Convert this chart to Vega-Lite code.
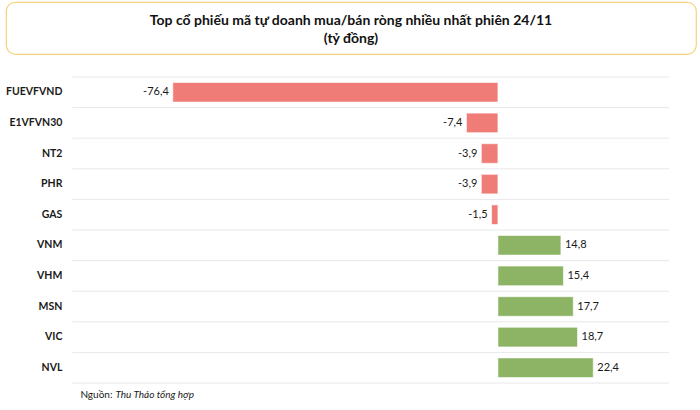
{
  "$schema": "https://vega.github.io/schema/vega-lite/v6.json",
  "padding": {"left": 5, "top": 1, "right": 5, "bottom": 0},
  "background": "white",
  "config": {
    "font": "Lato",
    "locale": {"number": {"decimal": ",", "thousands": ".", "grouping": [3], "currency": ["", ""], "minus": "-"}},
    "concat": {"spacing": 21}
  },
  "columns": 1,
  "concat": [
    {
      "width": 690,
      "height": 52,
      "view": {"stroke": "#F6D47E", "strokeWidth": 1.2, "cornerRadius": 9, "fill": "white"},
      "data": {"values": [{"t": "Top cổ phiếu mã tự doanh mua/bán ròng nhiều nhất phiên 24/11\n(tỷ đồng)"}]},
      "mark": {"type": "text", "font": "Lato", "fontWeight": "bold", "fontSize": 14, "color": "#111", "lineBreak": "\n", "lineHeight": 18, "baseline": "middle", "align": "center", "dy": -7},
      "encoding": {"text": {"field": "t"}}
    },
    {
      "width": 663,
      "height": 306,
      "view": {"stroke": null},
      "data": {"values": [
        {"ma": "FUEVFVND", "gt": -76.4},
        {"ma": "E1VFVN30", "gt": -7.4},
        {"ma": "NT2", "gt": -3.9},
        {"ma": "PHR", "gt": -3.9},
        {"ma": "GAS", "gt": -1.5},
        {"ma": "VNM", "gt": 14.8},
        {"ma": "VHM", "gt": 15.4},
        {"ma": "MSN", "gt": 17.7},
        {"ma": "VIC", "gt": 18.7},
        {"ma": "NVL", "gt": 22.4}
      ]},
      "encoding": {
        "y": {"field": "ma", "type": "nominal", "sort": null,
          "scale": {"paddingInner": 0, "paddingOuter": 0}, "axis": null}
      },
      "layer": [
        {
          "mark": {"type": "rule", "color": "#e8e8e8", "strokeWidth": 1},
          "encoding": {
            "y": {"field": "ma", "type": "nominal", "sort": null, "bandPosition": 0},
            "x": {"datum": -100, "type": "quantitative", "scale": {"domain": [-115.6, 40.2], "nice": false, "zero": false}, "axis": null},
            "x2": {"datum": 40.2}
          }
        },
        {
          "transform": [{"filter": "datum.ma == 'NVL'"}],
          "mark": {"type": "rule", "color": "#e8e8e8", "strokeWidth": 1},
          "encoding": {
            "y": {"field": "ma", "type": "nominal", "sort": null, "bandPosition": 1},
            "x": {"datum": -100, "type": "quantitative"},
            "x2": {"datum": 40.2}
          }
        },
        {
          "mark": {"type": "bar", "height": {"band": 0.64}, "stroke": "white", "strokeWidth": 0.6},
          "encoding": {
            "x": {"field": "gt", "type": "quantitative"},
            "color": {"condition": {"test": "datum.gt < 0", "value": "#F07C78"}, "value": "#8CB464"}
          }
        },
        {
          "mark": {"type": "text", "align": "right", "baseline": "middle", "dx": -10, "fontSize": 10.5, "font": "Lato", "fontWeight": "bold", "color": "#1a1a1a"},
          "encoding": {
            "x": {"datum": -100, "type": "quantitative"},
            "text": {"field": "ma"}
          }
        },
        {
          "transform": [{"filter": "datum.gt < 0"}],
          "mark": {"type": "text", "align": "right", "baseline": "middle", "dx": -4, "fontSize": 11, "font": "Lato", "color": "#1a1a1a"},
          "encoding": {
            "x": {"field": "gt", "type": "quantitative"},
            "text": {"field": "gt", "type": "quantitative", "format": ".1f"}
          }
        },
        {
          "transform": [{"filter": "datum.gt >= 0"}],
          "mark": {"type": "text", "align": "left", "baseline": "middle", "dx": 4, "fontSize": 11, "font": "Lato", "color": "#1a1a1a"},
          "encoding": {
            "x": {"field": "gt", "type": "quantitative"},
            "text": {"field": "gt", "type": "quantitative", "format": ".1f"}
          }
        },
        {
          "mark": {"type": "rule", "strokeDash": [3, 2], "color": "#9a9a9a", "strokeWidth": 1},
          "encoding": {"x": {"datum": 0, "type": "quantitative"}}
        },
        {
          "data": {"values": [{"s": "Nguồn:", "ma": "NVL"}]},
          "mark": {"type": "text", "align": "left", "baseline": "middle", "dx": 8, "dy": 27, "fontSize": 10, "font": "Lato", "color": "#1a1a1a"},
          "encoding": {"x": {"datum": -100, "type": "quantitative"}, "y": {"field": "ma", "type": "nominal"}, "text": {"field": "s"}}
        },
        {
          "data": {"values": [{"s": "Thu Thảo tổng hợp", "ma": "NVL"}]},
          "mark": {"type": "text", "align": "left", "baseline": "middle", "dx": 43, "dy": 27, "fontSize": 10, "font": "Lato", "fontStyle": "italic", "color": "#1a1a1a"},
          "encoding": {"x": {"datum": -100, "type": "quantitative"}, "y": {"field": "ma", "type": "nominal"}, "text": {"field": "s"}}
        }
      ]
    }
  ]
}
